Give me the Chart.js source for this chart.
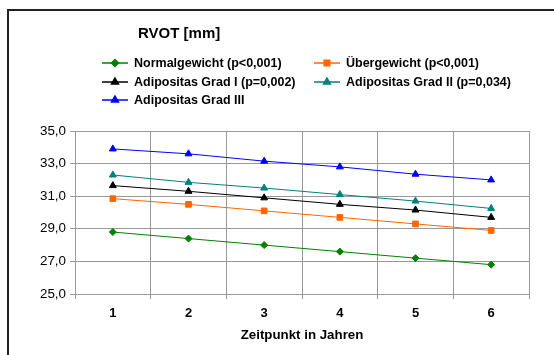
<!DOCTYPE html>
<html>
<head>
<meta charset="utf-8">
<script src="https://cdn.jsdelivr.net/npm/chart.js@4"></script>
<style>
  body { margin: 0; background: #fff; }
  #wrap { width: 554px; height: 355px; }
</style>
</head>
<body>
<div id="wrap"><canvas id="rvotChart" width="554" height="355"></canvas></div>
<script>
const years = ['1', '2', '3', '4', '5', '6'];
const normalgewicht = [28.8, 28.4, 28.0, 27.6, 27.2, 26.8];
const uebergewicht = [30.85, 30.5, 30.1, 29.7, 29.3, 28.9];
const adipositas1 = [31.65, 31.3, 30.9, 30.5, 30.15, 29.7];
const adipositas2 = [32.3, 31.85, 31.5, 31.1, 30.7, 30.25];
const adipositas3 = [33.9, 33.6, 33.15, 32.8, 32.35, 32.0];
const yTicks = [25, 27, 29, 31, 33, 35];

const font = 'Arial, "Liberation Sans", sans-serif';

function series(label, data, color, pointStyle, radius) {
    return {
        label: label,
        data: data,
        borderColor: color,
        backgroundColor: color,
        borderWidth: 1,
        pointStyle: pointStyle,
        pointRadius: radius,
        pointBorderWidth: 1,
        tension: 0
    };
}

// legend slots: two columns, three rows
const legendSlots = [
    { x: 102, y: 63 }, { x: 314, y: 63 },
    { x: 102, y: 82 }, { x: 314, y: 82 },
    { x: 102, y: 100 }
];

const frameAndLegend = {
    id: 'frameAndLegend',
    beforeDraw(chart) {
        const ctx = chart.ctx;
        ctx.save();
        ctx.strokeStyle = '#222';
        ctx.lineWidth = 2;
        ctx.beginPath();
        ctx.moveTo(8, 360);
        ctx.lineTo(8, 10);
        ctx.lineTo(560, 10);
        ctx.stroke();
        ctx.restore();
    },
    afterDraw(chart) {
        const ctx = chart.ctx;
        ctx.save();
        ctx.fillStyle = '#000';
        ctx.font = 'bold 15px ' + font;
        ctx.textBaseline = 'middle';
        ctx.fillText('RVOT [mm]', 138, 34);

        ctx.font = 'bold 12.5px ' + font;
        chart.data.datasets.forEach((ds, i) => {
            const slot = legendSlots[i];
            ctx.strokeStyle = ds.borderColor;
            ctx.lineWidth = 1.5;
            ctx.beginPath();
            ctx.moveTo(slot.x, slot.y);
            ctx.lineTo(slot.x + 26, slot.y);
            ctx.stroke();
            Chart.helpers.drawPoint(ctx, {
                pointStyle: ds.pointStyle,
                radius: ds.pointRadius,
                borderWidth: 1
            }, slot.x + 13, slot.y);
            ctx.fillStyle = ds.borderColor;
            ctx.fill();
            ctx.fillStyle = '#000';
            ctx.fillText(ds.label, slot.x + 32, slot.y + 1);
        });
        ctx.restore();
    }
};

const chart = new Chart(document.getElementById('rvotChart'), {
    type: 'line',
    data: {
        labels: years,
        datasets: [
            series('Normalgewicht (p<0,001)', normalgewicht, '#008000', 'rectRot', 3.5),
            series('Übergewicht (p<0,001)', uebergewicht, '#FF6600', 'rect', 4),
            series('Adipositas Grad I (p=0,002)', adipositas1, '#000000', 'triangle', 4),
            series('Adipositas Grad II (p=0,034)', adipositas2, '#008080', 'triangle', 4),
            series('Adipositas Grad III', adipositas3, '#0000FF', 'triangle', 4)
        ]
    },
    options: {
        responsive: false,
        animation: false,
        layout: { padding: { left: 0, top: 131, right: 25, bottom: 0 } },
        plugins: {
            legend: { display: false },
            tooltip: { enabled: false }
        },
        scales: {
            x: {
                offset: true,
                grid: { offset: true, color: '#999', tickLength: 5, tickColor: '#999' },
                border: { color: '#999' },
                ticks: { color: '#000', font: { family: font, size: 13, weight: 'bold' }, padding: 7 },
                title: {
                    display: true,
                    text: 'Zeitpunkt in Jahren',
                    color: '#000',
                    font: { family: font, size: 13.3, weight: 'bold' },
                    padding: { top: 0, bottom: 12 }
                },
                afterFit(scale) { scale.height = 61; }
            },
            y: {
                min: 25,
                max: 35,
                grid: { color: '#999', tickLength: 5, tickColor: '#999' },
                border: { color: '#999' },
                afterBuildTicks(scale) { scale.ticks = yTicks.map(v => ({ value: v })); },
                ticks: {
                    color: '#000',
                    font: { family: font, size: 13.4 },
                    padding: 4,
                    callback: v => v.toFixed(1).replace('.', ',')
                },
                afterFit(scale) { scale.width = 75; }
            }
        }
    },
    plugins: [frameAndLegend]
});
</script>
</body>
</html>
